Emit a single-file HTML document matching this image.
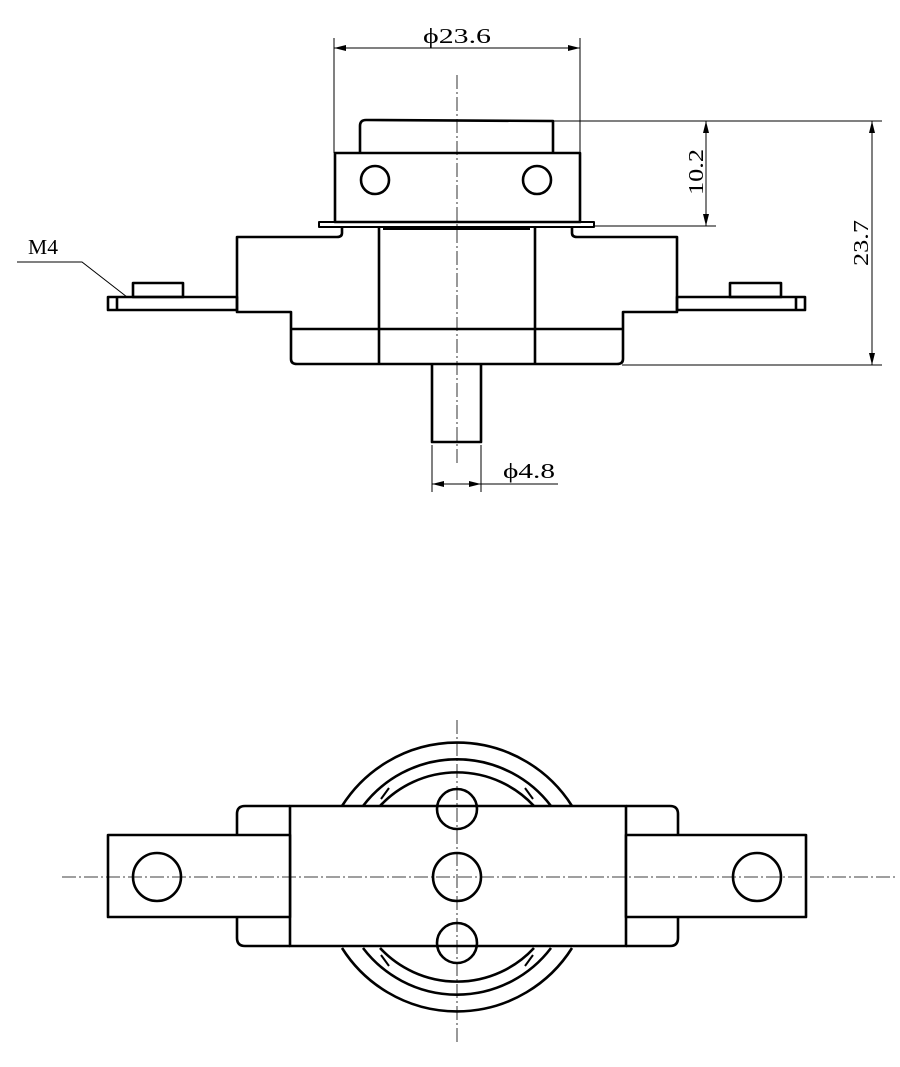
<!DOCTYPE html>
<html><head><meta charset="utf-8"><style>
html,body{margin:0;padding:0;background:#fff;}
svg{display:block;}
text{font-family:"Liberation Serif",serif;fill:#000;}
</style></head><body>
<svg width="900" height="1067" viewBox="0 0 900 1067" xmlns="http://www.w3.org/2000/svg">
<defs>
<marker id="a" markerWidth="12" markerHeight="6" refX="12" refY="3" orient="auto" markerUnits="userSpaceOnUse"><path d="M0,0 L12,3 L0,6 z" fill="#000"/></marker>
</defs>
<g fill="none" stroke="#000" stroke-width="1">
<line x1="457" y1="75" x2="457" y2="466" stroke-dasharray="14,3,2,3" stroke-width="0.8"/>
<line x1="334" y1="38" x2="334" y2="153"/>
<line x1="580" y1="38" x2="580" y2="153"/>
<line x1="457" y1="48" x2="334" y2="48" marker-end="url(#a)"/>
<line x1="457" y1="48" x2="580" y2="48" marker-end="url(#a)"/>
<line x1="553" y1="121" x2="882" y2="121"/>
<line x1="595" y1="226" x2="716" y2="226"/>
<line x1="622" y1="365" x2="882" y2="365"/>
<line x1="706" y1="172" x2="706" y2="121" marker-end="url(#a)"/>
<line x1="706" y1="172" x2="706" y2="226" marker-end="url(#a)"/>
<line x1="872" y1="243" x2="872" y2="121" marker-end="url(#a)"/>
<line x1="872" y1="243" x2="872" y2="365" marker-end="url(#a)"/>
<line x1="432" y1="445" x2="432" y2="492"/>
<line x1="481" y1="445" x2="481" y2="492"/>
<line x1="456" y1="484" x2="432" y2="484" marker-end="url(#a)"/>
<line x1="456" y1="484" x2="481" y2="484" marker-end="url(#a)"/>
<line x1="481" y1="484" x2="558" y2="484"/>
<polyline points="17,262 82,262 127,297"/>
</g>
<g fill="none" stroke="#000" stroke-width="2.6" stroke-linejoin="round">
<path d="M360,153 L360,126 Q360,120 366,120 L553,121 L553,153"/>
<rect x="335" y="153" width="245" height="69"/>
<circle cx="375" cy="180" r="14"/>
<circle cx="537" cy="180" r="14"/>
<rect x="319" y="222" width="275" height="5" stroke-width="2"/>
<line x1="383" y1="228.5" x2="530" y2="228.5" stroke-width="3"/>
<path d="M342,227 L342,233 Q342,237 337,237 L237,237 L237,312 L291,312 L291,359 Q291,364 297,364 L617,364 Q623,364 623,359 L623,312 L677,312 L677,237 L577,237 Q572,237 572,233 L572,227"/>
<line x1="291" y1="329" x2="623" y2="329"/>
<line x1="379" y1="227" x2="379" y2="364"/>
<line x1="535" y1="227" x2="535" y2="364"/>
<rect x="108" y="297" width="129" height="13"/>
<line x1="117" y1="297" x2="117" y2="310"/>
<rect x="133" y="283" width="50" height="14"/>
<rect x="677" y="297" width="128" height="13"/>
<line x1="796" y1="297" x2="796" y2="310"/>
<rect x="730" y="283" width="51" height="14"/>
<path d="M432,364 L432,442 L481,442 L481,364"/>
<!-- bottom view -->
<path d="M342,806 A136,136 0 0 1 572,806"/>
<path d="M363,806 A118,118 0 0 1 551,806"/>
<path d="M380,806 A105,105 0 0 1 534,806"/>
<path d="M342,948 A136,136 0 0 0 572,948"/>
<path d="M363,948 A118,118 0 0 0 551,948"/>
<path d="M380,948 A105,105 0 0 0 534,948"/>
<line x1="389" y1="788" x2="381" y2="799" stroke-width="2"/>
<line x1="525" y1="788" x2="533" y2="799" stroke-width="2"/>
<line x1="389" y1="966" x2="381" y2="955" stroke-width="2"/>
<line x1="525" y1="966" x2="533" y2="955" stroke-width="2"/>
<path d="M290,806 L245,806 Q237,806 237,814 L237,938 Q237,946 245,946 L290,946"/>
<path d="M626,806 L670,806 Q678,806 678,814 L678,938 Q678,946 670,946 L626,946"/>
<rect x="290" y="806" width="336" height="140" fill="#fff"/>
<rect x="108" y="835" width="182" height="82" fill="#fff"/>
<rect x="626" y="835" width="180" height="82" fill="#fff"/>
</g>
<g fill="none" stroke="#000" stroke-width="0.8">
<line x1="457" y1="720" x2="457" y2="1045" stroke-dasharray="14,3,2,3"/>
<line x1="62" y1="877" x2="895" y2="877" stroke-dasharray="14,3,2,3"/>
</g>
<g fill="none" stroke="#000" stroke-width="2.6">
<circle cx="157" cy="877" r="24"/>
<circle cx="757" cy="877" r="24"/>
<circle cx="457" cy="809" r="20"/>
<circle cx="457" cy="877" r="24"/>
<circle cx="457" cy="943" r="20"/>
</g>
<text x="457" y="43" font-size="21" text-anchor="middle" textLength="68" lengthAdjust="spacingAndGlyphs">ϕ23.6</text>
<text x="529" y="478" font-size="21" text-anchor="middle" textLength="52" lengthAdjust="spacingAndGlyphs">ϕ4.8</text>
<text x="43" y="254" font-size="21" text-anchor="middle" textLength="30" lengthAdjust="spacingAndGlyphs">M4</text>
<text transform="translate(703,172) rotate(-90)" font-size="21" text-anchor="middle" textLength="46" lengthAdjust="spacingAndGlyphs">10.2</text>
<text transform="translate(868,243) rotate(-90)" font-size="21" text-anchor="middle" textLength="46" lengthAdjust="spacingAndGlyphs">23.7</text>
</svg>
</body></html>
